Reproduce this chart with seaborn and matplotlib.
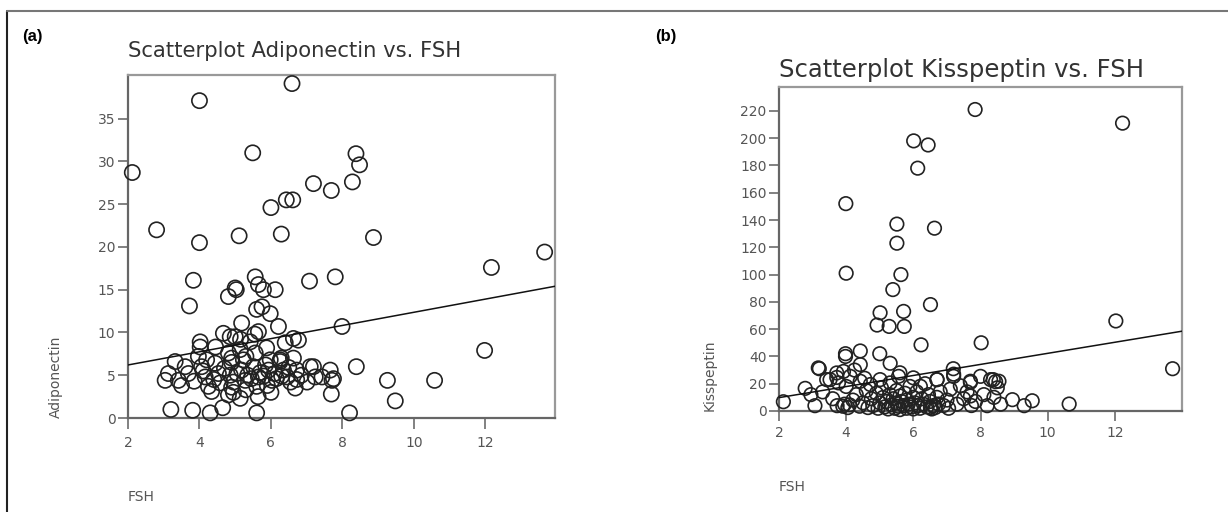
import numpy as np
import pandas as pd
import matplotlib
matplotlib.use("Agg")
import matplotlib.pyplot as plt
from matplotlib.lines import Line2D
import seaborn as sns

# ---------------- data ----------------
fsh_a = [6.59, 4.0, 5.49, 2.12, 8.38, 8.48, 7.19, 7.69, 8.28, 6.0, 6.43, 6.61, 2.8, 4.0, 5.11,
         6.29, 8.87, 13.66, 12.17, 3.83, 3.72, 7.08, 7.8, 7.99, 11.98, 8.39, 9.26, 10.58, 9.48,
         8.2, 7.69,
         3.2, 3.81, 4.3, 4.65, 5.6, 5.64, 4.81, 5.14,
         4.81, 5.0, 5.03, 5.56, 5.65, 5.79, 6.12, 5.6, 5.98, 6.21, 5.18, 4.67, 4.86, 5.65, 4.02,
         4.02, 6.63, 6.77,
         3.32, 3.04, 3.13, 3.41, 3.6, 3.69, 3.97, 4.06, 4.16, 4.25, 4.34, 4.44, 4.53, 4.58, 4.81,
         4.9, 4.86, 5.14, 5.23, 5.18, 5.28, 5.42, 5.56, 5.51, 5.65, 5.6, 5.88, 5.98, 5.93, 6.03,
         6.26, 6.35, 6.45, 6.63, 6.72, 6.68, 7.1, 7.24, 7.43, 7.66, 7.71, 7.19, 7.75, 7.01, 6.72,
         6.26, 6.29,
         4.1, 4.2, 4.4, 4.7, 4.95, 5.05, 5.35, 5.45, 5.7, 5.8, 5.85, 6.1, 6.15, 6.5, 6.55, 5.3,
         5.0, 4.45, 3.85, 4.9, 5.3, 6.0, 6.3, 6.85, 3.5, 5.75, 4.9, 5.15, 5.55, 6.4, 4.95, 5.9]
adiponectin = [39.1, 37.1, 31.0, 28.7, 30.9, 29.6, 27.4, 26.6, 27.6, 24.6, 25.5, 25.5, 22.0, 20.5,
               21.3, 21.5, 21.1, 19.4, 17.6, 16.1, 13.1, 16.0, 16.5, 10.7, 7.9, 6.0, 4.4, 4.4, 2.0,
               0.6, 2.8,
               1.0, 0.9, 0.6, 1.2, 0.6, 2.5, 2.7, 2.3,
               14.2, 15.2, 15.0, 16.5, 15.6, 15.0, 15.0, 12.7, 12.2, 10.7, 11.1, 9.9, 9.5, 10.1,
               8.9, 8.3, 9.3, 9.1,
               6.6, 4.4, 5.2, 4.4, 6.0, 5.2, 7.2, 6.0, 4.8, 3.7, 3.1, 6.4, 5.2, 4.1, 7.6,
               6.5, 5.0, 8.0, 6.8, 5.6, 4.4, 8.9, 7.6, 6.0, 4.8, 3.7, 8.2, 6.8, 5.6, 4.4,
               6.8, 5.6, 4.8, 7.0, 5.6, 3.5, 6.0, 4.8, 4.8, 5.6, 4.4, 6.0, 4.6, 4.2, 4.5,
               6.6, 7.0,
               5.5, 6.8, 4.5, 5.8, 4.2, 5.2, 5.0, 4.6, 5.3, 4.9, 6.2, 5.2, 4.6, 5.9, 4.2, 7.2,
               9.5, 8.3, 4.3, 3.6, 3.3, 3.0, 4.9, 5.0, 3.8, 13.0, 7.0, 9.2, 9.8, 8.8, 3.0, 3.8]

fsh_b = [7.84, 12.23, 6.01, 6.44, 6.13, 3.99, 5.51, 6.63, 5.51, 4.0, 5.63, 5.39, 6.51, 5.71, 5.01,
         4.92, 5.28, 5.73, 6.23, 8.02, 12.03, 13.72,
         3.98, 3.98, 4.42, 5.0, 5.31, 4.42, 3.2, 3.52, 3.72, 2.78, 2.13, 3.07, 7.19, 7.2, 7.7,
         8.38, 8.45, 8.5, 8.95, 9.3, 9.54, 10.64, 8.2, 7.7, 7.73, 7.4, 7.1, 6.7, 6.75, 6.51,
         3.17, 3.72, 3.92, 3.42, 3.77, 4.12, 4.42, 4.72, 5.01, 5.31, 5.56, 6.0, 6.21,
         6.71, 7.2, 7.7, 8.0, 8.3, 8.55,
         3.9, 3.95, 4.1, 4.2, 4.3, 4.4, 4.5, 4.6, 4.65, 4.75, 4.8, 4.9, 4.95, 5.0, 5.05, 5.1,
         5.15, 5.2, 5.25, 5.3, 5.35, 5.4, 5.45, 5.5, 5.5, 5.55, 5.6, 5.6, 5.65, 5.7, 5.75, 5.8,
         5.8, 5.85, 5.9, 5.95, 6.0, 6.0, 6.05, 6.1, 6.15, 6.2, 6.25, 6.3, 6.35, 6.4, 6.45, 6.5,
         6.55, 6.6, 6.65, 6.7, 6.8, 6.9, 7.0, 7.05, 7.3, 7.5, 7.6, 7.85, 8.1, 8.4, 8.6, 3.6,
         3.3, 2.95, 4.0, 4.55, 4.25, 5.6, 3.73, 4.05]
kisspeptin = [221, 211, 198, 195, 178, 152, 137, 134, 123, 101, 100, 89, 78, 73, 72,
              63, 62, 62, 48.5, 50, 66, 31,
              42, 40, 44, 42, 35, 34, 31, 23, 24.6, 16.6, 6.8, 3.9, 31, 27, 21,
              23, 21.5, 17, 8.3, 3.9, 7.5, 5.1, 3.9, 11, 4, 18.5, 16, 23, 5.1, 2.6,
              31.6, 27.9, 29, 23, 20.6, 25.4, 21.8, 19.4, 23, 20.6, 25.4, 24.3, 18.1,
              23, 25.4, 21.8, 25.4, 23, 21.8,
              3.5, 5, 4.5, 8, 12, 3.5, 6, 15, 2.5, 9, 4, 13, 2, 6, 17, 10,
              3, 7, 1.5, 12, 4.5, 9, 2, 6, 15, 3.5, 11, 1, 7, 4, 13, 2,
              8, 5, 18, 3, 10, 1.5, 6, 14, 4, 2, 9, 5, 20, 3, 12, 7,
              1.5, 4, 2.5, 10, 14, 4, 8, 2, 5, 9, 14, 7, 12, 10, 5, 9,
              14, 12, 18, 24, 30, 28, 3.9, 2.5]

fit_a_x = [2.0, 13.95]
fit_a_y = [6.2, 15.4]
fit_b_x = [2.0, 14.0]
fit_b_y = [9.8, 58.5]

xticks = [2, 4, 6, 8, 10, 12]
yticks_a = [0, 5, 10, 15, 20, 25, 30, 35]
yticks_b = list(range(0, 221, 20))

# ---------------- style ----------------
sns.set_style("white")
plt.rcParams["font.family"] = ["DejaVu Sans"]

W, H = 1228, 512
fig = plt.figure(figsize=(W / 100, H / 100), dpi=100)
fig.patch.set_facecolor("white")

ax_a = fig.add_axes([128 / W, (H - 418) / H, 427 / W, 343 / H])
ax_b = fig.add_axes([779 / W, (H - 411) / H, 403 / W, 324 / H])

df_a = pd.DataFrame({"FSH": fsh_a, "Adiponectin": adiponectin})
df_b = pd.DataFrame({"FSH": fsh_b, "Kisspeptin": kisspeptin})

sns.scatterplot(data=df_a, x="FSH", y="Adiponectin", ax=ax_a, s=120, marker="o",
                facecolor="none", edgecolor="#222222", linewidth=1.2, clip_on=False, zorder=3)
sns.lineplot(x=fit_a_x, y=fit_a_y, ax=ax_a, color="#111111", linewidth=1.1, zorder=4)

sns.scatterplot(data=df_b, x="FSH", y="Kisspeptin", ax=ax_b, s=95, marker="o",
                facecolor="none", edgecolor="#222222", linewidth=1.2, clip_on=False, zorder=3)
sns.lineplot(x=fit_b_x, y=fit_b_y, ax=ax_b, color="#111111", linewidth=1.1, zorder=4)

ax_a.set_xlim(2, 13.95)
ax_a.set_ylim(0, 40.1)
ax_b.set_xlim(2, 14.0)
ax_b.set_ylim(0, 237.5)

for ax, yt, xlen, xpad in ((ax_a, yticks_a, 8, 5), (ax_b, yticks_b, 7, 4)):
    ax.set_xticks(xticks)
    ax.set_yticks(yt)
    ax.tick_params(axis="both", which="major", bottom=True, left=True, top=False, right=False,
                   direction="out", width=1.3, color="#777777",
                   labelcolor="#555555", labelsize=10)
    ax.tick_params(axis="x", length=xlen, pad=xpad)
    ax.tick_params(axis="y", length=7, pad=2)
    for side in ("left", "bottom"):
        ax.spines[side].set_color("#666666")
        ax.spines[side].set_linewidth(1.6)
    for side in ("top", "right"):
        ax.spines[side].set_color("#999999")
        ax.spines[side].set_linewidth(1.6)
    ax.grid(False)

ax_a.set_title("Scatterplot Adiponectin vs. FSH", loc="left", pad=13, fontsize=15.2,
               color="#333333", x=0.0)
ax_b.set_title("Scatterplot Kisspeptin vs. FSH", loc="left", pad=7, fontsize=17.5,
               color="#333333", x=0.0)

ax_a.set_xlabel("FSH", loc="left", labelpad=29, fontsize=10, color="#555555")
ax_a.set_ylabel("Adiponectin", loc="bottom", labelpad=25.5, fontsize=10, color="#555555")
ax_b.set_xlabel("FSH", loc="left", labelpad=28.5, fontsize=10, color="#555555")
ax_b.set_ylabel("Kisspeptin", loc="bottom", labelpad=17, fontsize=10, color="#555555")

fig.text(22 / W, 1 - 37 / H, "(a)", fontsize=12, fontweight="bold",
         family=["Liberation Sans", "DejaVu Sans"], va="center", ha="left", color="black")
fig.text(655 / W, 1 - 37 / H, "(b)", fontsize=12, fontweight="bold",
         family=["Liberation Sans", "DejaVu Sans"], va="center", ha="left", color="black")

# outer frame (left and top edges as in the reference crop)
fig.add_artist(Line2D([7 / W, 7 / W], [0, 1 - 11 / H], transform=fig.transFigure,
                      color="#222222", linewidth=1.5))
fig.add_artist(Line2D([7 / W, 1], [1 - 11 / H, 1 - 11 / H], transform=fig.transFigure,
                      color="#777777", linewidth=1.5))

fig.savefig("out.png", dpi=100, facecolor="white")
